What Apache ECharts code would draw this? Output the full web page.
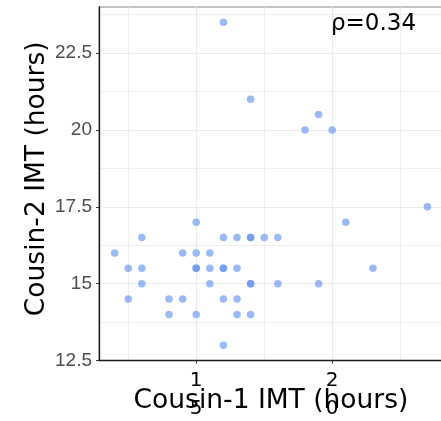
<!DOCTYPE html>
<html>
<head>
<meta charset="utf-8">
<script src="https://cdn.jsdelivr.net/npm/echarts@6/dist/echarts.min.js"></script>
<style>html,body{margin:0;padding:0;background:#fff;}#c{width:441px;height:421px;}</style>
</head>
<body>
<div id="c"></div>
<script>
const cousin1 = [12,12.5,12.5,13,13,13,14,14,14.5,14.5,15,15,15,15,15,15.5,15.5,15.5,16,16,16,16,16,16,16.5,16.5,16.5,16.5,17,17,17,17,17,17,17.5,18,18,19,19.5,19.5,20,20.5,21.5,23.5];
const cousin2 = [16,15.5,14.5,16.5,15.5,15,14.5,14,14.5,16,16,17,15.5,15.5,14,16,15.5,15,16.5,15.5,15.5,14.5,13,23.5,16.5,15.5,14.5,14,16.5,16.5,15,15,14,21,16.5,16.5,15,20,20.5,15,20,17,15.5,17.5];
const xTicks = [15, 20];
const xMinorGrid = [12.5, 17.5, 22.5];
const yTicks = [12.5, 15, 17.5, 20, 22.5];
const yMinorGrid = [13.75, 16.25, 18.75, 21.25, 23.75];
const rhoLabel = 'ρ=0.34';

const points = cousin1.map((x, i) => [x, cousin2[i]]);
const chart = echarts.init(document.getElementById('c'), null, {renderer: 'canvas'});
const XMIN = 11.425, XMAX = 24.075, YMIN = 12.5, YMAX = 24;
chart.setOption({
  animation: false,
  grid: {left: 99, top: 7, right: -2, bottom: 60.5, containLabel: false, outerBoundsMode: 'none',
    show: true, borderColor: '#8c8c8c', borderWidth: 1.2, backgroundColor: 'transparent'},
  xAxis: [{
    type: 'value', min: XMIN, max: XMAX,
    name: 'Cousin-1 IMT (hours)', nameLocation: 'middle', nameGap: 27, nameMoveOverlap: false,
    nameTextStyle: {fontFamily: 'DejaVu Sans', fontSize: 26.5, color: '#000'},
    axisLine: {show: true, onZero: false, lineStyle: {color: '#1a1a1a', width: 1.3}},
    axisTick: {show: true, length: 3, customValues: xTicks, lineStyle: {color: '#333'}},
    axisLabel: {customValues: xTicks, margin: 6, fontFamily: 'DejaVu Sans', fontSize: 20, lineHeight: 28, color: '#000',
      formatter: v => String(v).split('').join('\n')},
    splitLine: {show: true, lineStyle: {color: '#ebebeb', width: 1.1}}
  }, {
    type: 'value', min: XMIN, max: XMAX, position: 'bottom',
    axisLine: {show: false}, axisTick: {show: false, customValues: xMinorGrid}, axisLabel: {show: false, customValues: xMinorGrid},
    splitLine: {show: true, lineStyle: {color: '#ebebeb', width: 0.8}}
  }],
  yAxis: [{
    type: 'value', min: YMIN, max: YMAX,
    name: 'Cousin-2 IMT (hours)', nameLocation: 'middle', nameGap: 48, nameMoveOverlap: false,
    nameTextStyle: {fontFamily: 'DejaVu Sans', fontSize: 26.5, color: '#000', padding: [0, 0, 0, 10]},
    axisLine: {show: true, onZero: false, lineStyle: {color: '#1a1a1a', width: 1.3}},
    axisTick: {show: true, length: 3, customValues: yTicks, lineStyle: {color: '#333'}},
    axisLabel: {customValues: yTicks, margin: 7, fontFamily: 'Liberation Sans', fontSize: 19, color: '#4d4d4d'},
    splitLine: {show: true, lineStyle: {color: '#ebebeb', width: 1.1}}
  }, {
    type: 'value', min: YMIN, max: YMAX, position: 'left',
    axisLine: {show: false}, axisTick: {show: false, customValues: yMinorGrid}, axisLabel: {show: false, customValues: yMinorGrid},
    splitLine: {show: true, lineStyle: {color: '#ebebeb', width: 0.8}}
  }],
  series: [{
    type: 'scatter', xAxisIndex: 0, yAxisIndex: 0,
    data: points, symbolSize: 7.5,
    itemStyle: {color: 'rgba(98,146,238,0.8)'},
    z: 5
  }],
  graphic: [{
    type: 'text', left: 331, top: 13, z: 10,
    style: {text: rhoLabel, fontFamily: 'DejaVu Sans', fontSize: 23, fill: '#000'}
  }]
});
</script>
</body>
</html>
